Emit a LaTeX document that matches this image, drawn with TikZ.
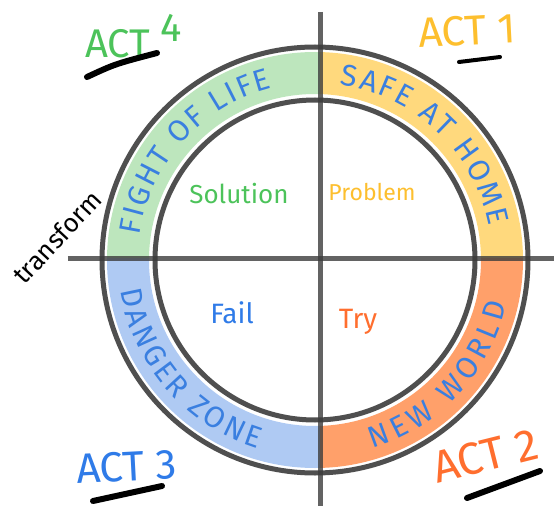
\documentclass[tikz,border=0pt]{standalone}
\usepackage{fontspec}
\setmainfont{Fira Sans}
\usetikzlibrary{decorations.text}
\definecolor{ringblue}{HTML}{3A7FE0}
\definecolor{gfill}{HTML}{BDE6BD}
\definecolor{yfill}{HTML}{FFD97D}
\definecolor{ofill}{HTML}{FFA06A}
\definecolor{bfill}{HTML}{AFCAF3}
\definecolor{gtext}{HTML}{4CC35A}
\definecolor{ytext}{HTML}{FDBF2E}
\definecolor{otext}{HTML}{FF6E2E}
\definecolor{btext}{HTML}{2F7BE8}
\definecolor{linegray}{HTML}{3C3C3C}
\tikzset{
  ringline/.style={draw=linegray, line width=5pt, opacity=0.9},
  axisline/.style={draw=linegray, line width=5pt, opacity=0.8},
  actlabel/.style={font=\fontsize{42}{42}\selectfont, inner sep=0pt, anchor=base west},
  quadlabel/.style={font=\fontsize{26}{26}\selectfont, inner sep=0pt},
  underline/.style={draw=black, line width=6pt, line cap=round},
  ringtext/.style={decorate, decoration={text along path, text align={fit to path},
     text={|\fontsize{30}{30}\selectfont\color{ringblue}|#1}}}
}
\begin{document}
\begin{tikzpicture}[x=1pt,y=1pt]
\useasboundingbox (-315,-246) rectangle (239,260);
\fill[white] (-315,-246) rectangle (239,260);
% coloured bands
\begin{scope}
  \clip (5,2) rectangle (239,260);
  \fill[yfill, even odd rule] (0,0) circle[radius=208] (0,0) circle[radius=166];
\end{scope}
\begin{scope}
  \clip (5,2) rectangle (239,-246);
  \fill[ofill, even odd rule] (0,0) circle[radius=208] (0,0) circle[radius=166];
\end{scope}
\begin{scope}
  \clip (5,2) rectangle (-315,260);
  \fill[gfill, even odd rule] (0,0) circle[radius=208] (0,0) circle[radius=166];
\end{scope}
\begin{scope}
  \clip (5,2) rectangle (-315,-246);
  \fill[bfill, even odd rule] (0,0) circle[radius=208] (0,0) circle[radius=166];
\end{scope}
% circles
\draw[ringline] (0,0) circle[radius=213];
\draw[ringline] (0,0) circle[radius=160];
% axes
\coordinate (hl) at (-247,2);
\coordinate (hr) at (239,2);
\coordinate (vt) at (5,248);
\coordinate (vb) at (5,-246);
\draw[axisline] (hl) -- (hr);
\draw[axisline] (vt) -- (vb);
% ring texts
\path[ringtext={FIGHT OF LIFE}] (172:177) arc[start angle=172, end angle=104, radius=177];
\path[ringtext={SAFE AT HOME}] (82:177) arc[start angle=82, end angle=11, radius=177];
\path[ringtext={DANGER ZONE}] (189:197) arc[start angle=189, end angle=253, radius=197];
\path[ringtext={NEW WORLD}] (287:197) arc[start angle=287, end angle=347, radius=197];
% quadrant words
\node[quadlabel, text=gtext] (sol) at (-76,66) {Solution};
\node[quadlabel, text=ytext, font=\fontsize{23}{23}\selectfont] (prob) at (57,68) {Problem};
\node[quadlabel, text=btext, font=\fontsize{28}{28}\selectfont] (fail) at (-83,-53) {Fail};
\node[quadlabel, text=otext, font=\fontsize{28}{28}\selectfont] (try) at (43,-62) {Try};
% act labels
\node[actlabel, text=gtext, font=\fontsize{40}{40}\selectfont] (a4) at (-230,202) {ACT\hspace{10pt}\raisebox{16pt}{4}};
\node[actlabel, text=ytext, rotate=3] (a1) at (104,212) {ACT 1};
\node[actlabel, text=btext, rotate=3] (a3) at (-238,-224) {ACT 3};
\node[actlabel, text=otext, rotate=14, font=\fontsize{45}{45}\selectfont] (a2) at (122,-224) {ACT 2};
\node[font=\fontsize{26}{26}\selectfont, rotate=47, inner sep=0pt] (tr) at (-258,23) {transform};
% underlines
\coordinate (u4a) at (-228,183); \coordinate (u4b) at (-158,207);
\coordinate (u1a) at (144,198); \coordinate (u1b) at (185,203);
\coordinate (u3a) at (-222,-241); \coordinate (u3b) at (-153,-226);
\coordinate (u2a) at (152,-238); \coordinate (u2b) at (225,-211);
\draw[underline] (u4a) .. controls (-200,196) .. (u4b);
\draw[underline, line width=4pt] (u1a) -- (u1b);
\draw[underline] (u3a) -- (u3b);
\draw[underline] (u2a) -- (u2b);
\end{tikzpicture}
\end{document}
